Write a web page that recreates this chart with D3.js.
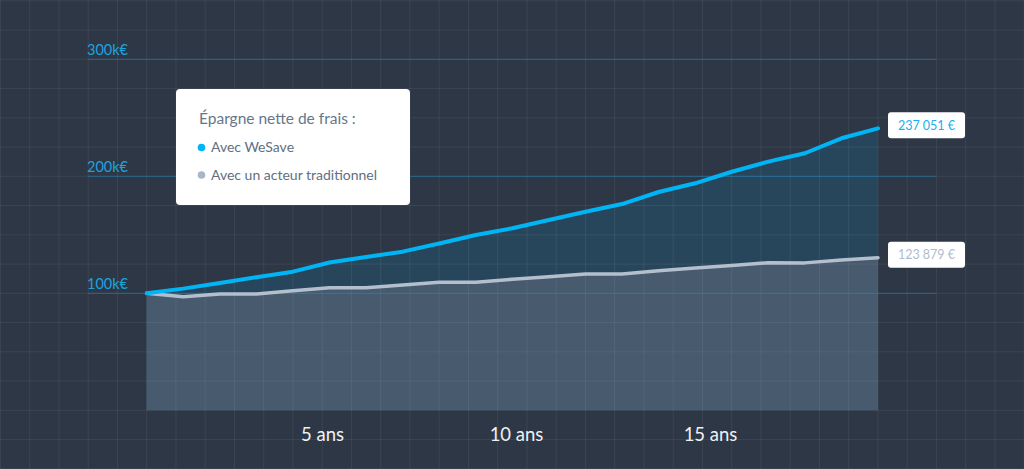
<!DOCTYPE html>
<html>
<head>
<meta charset="utf-8">
<script src="https://cdn.jsdelivr.net/npm/d3@7"></script>
<style>
  html, body { margin: 0; padding: 0; background: #2e3745; }
  svg { display: block; font-family: Lato, "Open Sans", sans-serif; }
</style>
</head>
<body>
<svg width="1024" height="469"></svg>
<script>
var svg = d3.select('svg');
var width = +svg.attr('width');
var height = +svg.attr('height');

// données (en euros)
const annees = [0, 1, 2, 3, 4, 5, 6, 7, 8, 9, 10, 11, 12, 13, 14, 15, 16, 17, 18, 19, 20];
const avecWesave = [100000, 104000, 108800, 113700, 118500, 126300, 131000, 135600, 142600, 149800,
	155600, 162600, 169700, 176300, 186600, 194000, 203900, 212500, 219700, 232500, 241000];
const avecTraditionnel = [100000, 97100, 99400, 99400, 102200, 104800, 104800, 107100, 109400, 109400,
	112000, 114200, 116500, 116500, 119300, 121600, 123800, 126200, 126000, 128500, 130400];
const finalLabels = ["237 051 €", "123 879 €"];
const yTicks = [100000, 200000, 300000];
const xTicks = [5, 10, 15];

const blue = "#00b5f6";
const grey = "#b3bfcd";

// échelles
const xScale = d3.scaleLinear().domain([0, 20]).range([146.7, 878]);
const yScale = d3.scaleLinear().domain([0, 300000]).range([410.3, 59.3]);
// échelle des libellés d'années
const xLabelScale = d3.scaleLinear().domain([0, 20]).range([128, 904]);

const series = [
	{ name: "wesave", values: avecWesave, color: blue, area: "#28465b", label: finalLabels[0] },
	{ name: "trad", values: avecTraditionnel, color: grey, area: "#475a6e", label: finalLabels[1] }
];

// fond
svg.append('rect').attr('width', width).attr('height', height).attr('fill', '#2e3745');

// aires
const area = d3.area()
	.x((d, i) => xScale(annees[i]))
	.y0(yScale(0))
	.y1(d => yScale(d));
svg.selectAll('path.area').data(series)
	.enter().append('path')
	.attr('class', 'area')
	.attr('d', s => area(s.values))
	.attr('fill', s => s.area);

// grille
const step = yScale(0) - yScale(25000);
const gridX = d3.range(xScale(0) - 5 * step, width + 1, step);
const gridY = d3.range(yScale(0) + 2 * step, -1, -step);
const grid = svg.append('g').attr('stroke', '#ffffff').attr('stroke-opacity', 0.065).attr('stroke-width', 1);
grid.selectAll('line.v').data(gridX).enter().append('line')
	.attr('x1', d => d).attr('x2', d => d).attr('y1', 0).attr('y2', height);
grid.selectAll('line.h').data(gridY).enter().append('line')
	.attr('y1', d => d).attr('y2', d => d).attr('x1', 0).attr('x2', width);

// lignes de valeurs
const yAxis = svg.append('g');
yAxis.selectAll('line').data(yTicks).enter().append('line')
	.attr('x1', 88).attr('x2', 936)
	.attr('y1', d => yScale(d)).attr('y2', d => yScale(d))
	.attr('stroke', '#1d87c0').attr('stroke-opacity', 0.45).attr('stroke-width', 1.3);
yAxis.selectAll('text').data(yTicks).enter().append('text')
	.attr('x', 87)
	.attr('y', d => yScale(d) - 4.5)
	.attr('fill', '#1ba3df')
	.style('font-size', '14.5px')
	.text(d => (d / 1000) + 'k€');

// axe des x
const xAxis = svg.append('g')
	.attr('transform', 'translate(0,' + 441 + ')')
	.call(d3.axisBottom(xLabelScale).tickValues(xTicks).tickSize(0).tickFormat(d => d + ' ans'));
xAxis.select('.domain').remove();
xAxis.selectAll('text')
	.attr('y', 0).attr('dy', 0)
	.attr('fill', '#eef1f4')
	.style('font-family', 'Lato, "Open Sans", sans-serif')
	.style('font-size', '18.5px');

// courbes
const line = d3.line()
	.x((d, i) => xScale(annees[i]))
	.y(d => yScale(d));
svg.selectAll('path.line').data(series.slice().reverse())
	.enter().append('path')
	.attr('class', 'line')
	.attr('d', s => line(s.values))
	.attr('fill', 'none')
	.attr('stroke', s => s.color)
	.attr('stroke-width', s => s.name == "wesave" ? 4 : 3.5)
	.attr('stroke-linejoin', 'round')
	.attr('stroke-linecap', 'round');

// étiquettes des valeurs finales
const last = annees.length - 1;
const tags = svg.selectAll('g.tag').data(series).enter().append('g')
	.attr('class', 'tag')
	.attr('transform', s => 'translate(' + (xScale(annees[last]) + 10) + ',' + (yScale(s.values[last]) - 3) + ')');
tags.append('rect')
	.attr('x', 0).attr('y', -13).attr('width', 77).attr('height', 26).attr('rx', 3)
	.attr('fill', '#ffffff');
tags.append('text')
	.attr('x', 38.5).attr('y', 4.5)
	.attr('text-anchor', 'middle')
	.attr('fill', s => s.name == "wesave" ? "#1ab0f0" : "#b0bccb")
	.style('font-size', '12.5px')
	.text(s => s.label);

// légende
const legend = svg.append('g').attr('transform', 'translate(176,89)');
legend.append('rect')
	.attr('width', 234).attr('height', 116).attr('rx', 4)
	.attr('fill', '#ffffff');
legend.append('text')
	.attr('x', 23).attr('y', 34.5)
	.attr('fill', '#66768a')
	.style('font-size', '15.5px')
	.text('Épargne nette de frais :');
const items = [
	{ text: 'Avec WeSave', color: blue },
	{ text: 'Avec un acteur traditionnel', color: '#a9b6c6' }
];
const li = legend.selectAll('g.item').data(items).enter().append('g')
	.attr('class', 'item')
	.attr('transform', (d, i) => 'translate(0,' + (58.5 + i * 27.5) + ')');
li.append('circle').attr('cx', 25.5).attr('cy', 0).attr('r', 3.8).attr('fill', d => d.color);
li.append('text')
	.attr('x', 35).attr('y', 4.5)
	.attr('fill', '#5f6f82')
	.style('font-size', '14px')
	.text(d => d.text);
</script>
</body>
</html>
